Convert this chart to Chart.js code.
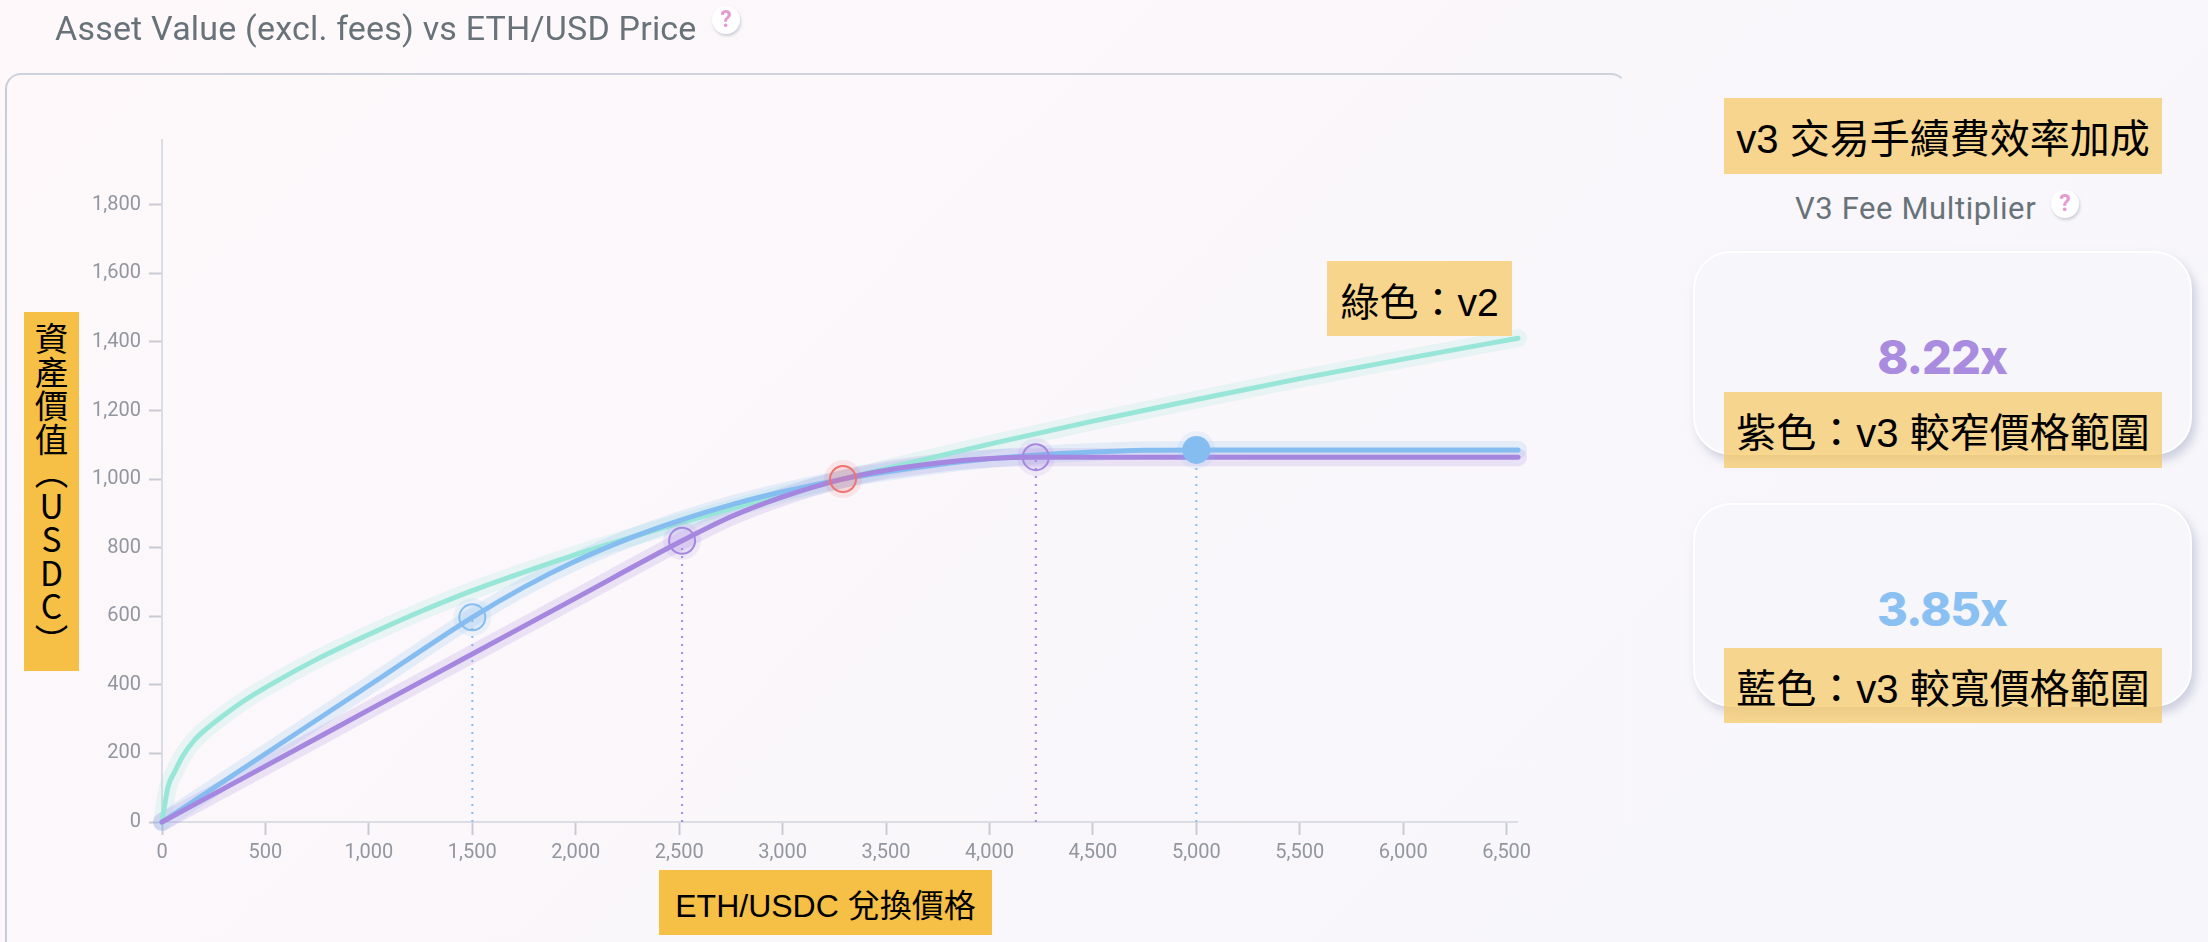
<!DOCTYPE html>
<html lang="zh-Hant">
<head>
<meta charset="utf-8">
<title>Asset Value vs ETH/USD Price</title>
<script src="https://cdn.jsdelivr.net/npm/chart.js@4/dist/chart.umd.min.js"></script>
<style>
  html, body { margin: 0; padding: 0; width: 2208px; height: 942px; overflow: hidden; }
  body { position: relative; background: linear-gradient(135deg, #fef8fa 0%, #f6f6fb 100%); font-family: Roboto, sans-serif; }
  .abs { position: absolute; }
  #panel { left: 5px; top: 73px; width: 1622px; height: 900px; border-radius: 16px; box-sizing: border-box;
    border: 2px solid #f8f8fc; border-left-color: #c6ccda; border-top-color: #cdd2dd; }
  #chart-wrap { left: 0; top: 0; width: 1640px; height: 942px; }
  .title { color: #687379; white-space: nowrap; }
  #main-title { left: 55px; top: 8px; font-size: 34px; line-height: 40px; letter-spacing: 0.2px; }
  #fee-title { left: 1795px; top: 189px; font-size: 31px; line-height: 40px; letter-spacing: 0.6px; }
  .help { width: 28px; height: 28px; border-radius: 50%; background: #fff; box-shadow: 1px 2px 3px rgba(150,155,175,.45);
    color: #e59ad0; font: bold 23px/28px Roboto, sans-serif; text-align: center; }
  .tile { left: 1693px; width: 499px; height: 204px; box-sizing: border-box; border-radius: 38px; background: #f7f6fb;
    border: 2px solid #fff; box-shadow: 4px 6px 10px rgba(170,175,200,.55); }
  .mult { left: 1693px; width: 498px; text-align: center; font: 800 47px/60px Inter, sans-serif; letter-spacing: -1px; }
  .note { display: flex; align-items: center; justify-content: center; box-sizing: border-box; color: #000; white-space: nowrap;
    font-family: "Liberation Sans", "Noto Sans CJK TC", sans-serif; font-size: 40px; }
  .pale { background: rgba(245, 202, 105, .75); }
  .strong { background: #f6bf45; }
  #y-note { left: 24px; top: 312px; width: 55px; height: 359px; padding-top: 10px; justify-content: flex-start; writing-mode: vertical-rl;
    text-orientation: upright; font-family: "Noto Sans CJK TC", sans-serif; font-size: 33.5px; }
</style>
</head>
<body>
<div class="abs" id="panel"></div>
<div class="abs" id="chart-wrap"><canvas id="asset-chart" width="1640" height="942"></canvas></div>

<div class="abs title" id="main-title">Asset Value (excl. fees) vs ETH/USD Price</div>
<div class="abs help" style="left:712px;top:6px">?</div>

<div class="abs note strong" id="y-note">資產價值（USDC）</div>
<div class="abs note strong" style="left:659px;top:870px;width:333px;height:65px;font-size:32px">ETH/USDC 兌換價格</div>
<div class="abs note" style="left:1327px;top:261px;width:185px;height:75px;background:#f8d58c;font-size:39px">綠色：v2</div>

<div class="abs note pale" style="left:1724px;top:98px;width:438px;height:76px">v3 交易手續費效率加成</div>
<div class="abs title" id="fee-title">V3 Fee Multiplier</div>
<div class="abs help" style="left:2051px;top:190px">?</div>

<div class="abs tile" style="top:251px"></div>
<div class="abs mult" style="top:327px;color:#a98bdf">8.22x</div>
<div class="abs note pale" style="left:1724px;top:392px;width:438px;height:76px">紫色：v3 較窄價格範圍</div>

<div class="abs tile" style="top:503px"></div>
<div class="abs mult" style="top:579px;color:#8bc1f2">3.85x</div>
<div class="abs note pale" style="left:1724px;top:648px;width:438px;height:75px">藍色：v3 較寬價格範圍</div>

<script>
const xTicks = [0, 500, 1000, 1500, 2000, 2500, 3000, 3500, 4000, 4500, 5000, 5500, 6000, 6500];
const yTicks = [0, 200, 400, 600, 800, 1000, 1200, 1400, 1600, 1800];

const v2Prices = [0, 29, 60, 100, 150, 200, 300, 400, 500, 750, 1000, 1250, 1500, 1750, 2000, 2250, 2500, 2750, 3000, 3290, 3500, 4000, 4500, 5000, 5500, 6000, 6555];
const v2Values = [0, 102, 145, 192, 234, 264, 312, 355, 392, 475, 547, 614, 675, 729, 780, 827, 872, 914, 955, 1000, 1031, 1102, 1169, 1232, 1293, 1350, 1411];

const widePrices = [0, 500, 1000, 1500, 1750, 2000, 2250, 2500, 2750, 3000, 3290, 3500, 3750, 4000, 4250, 4500, 4750, 5000, 6555];
const wideValues = [0, 199, 398, 597, 685, 761, 825, 879, 925, 963, 1000, 1021, 1042, 1059, 1071, 1079, 1084, 1085, 1085];

const narrowPrices = [0, 500, 1000, 1500, 2000, 2514, 2750, 3000, 3290, 3500, 3750, 4000, 4224, 6555];
const narrowValues = [0, 163, 327, 490, 653, 820, 890, 948, 1000, 1026, 1047, 1060, 1064, 1064];

const widePegPrices = [1500, 5000];
const widePegValues = [597, 1085];
const narrowPegPrices = [2514, 4224];
const narrowPegValues = [820, 1064];
const currentPrice = [3292];
const currentValue = [1000];

const GREEN = '#98e6d8';
const BLUE = '#86bdf0';
const PURPLE = '#a587e0';
const RED = '#ef7470';

function toPoints(xs, ys) {
  return xs.map((x, i) => ({ x, y: ys[i] }));
}

function curve(xs, ys, color, width, alpha) {
  return {
    data: toPoints(xs, ys),
    borderColor: color + alpha,
    borderWidth: width,
    borderCapStyle: 'round',
    borderJoinStyle: 'round',
    pointRadius: 0,
    showLine: true,
    cubicInterpolationMode: 'monotone',
    clip: false
  };
}

function dropLine(x, y, color) {
  return {
    data: [{ x, y: 0 }, { x, y }],
    borderColor: color,
    borderWidth: 2,
    borderDash: [2, 6],
    pointRadius: 0,
    showLine: true,
    clip: false
  };
}

function marker(xs, ys, color, radius, fill, border) {
  return {
    data: toPoints(xs, ys),
    pointRadius: radius,
    pointBackgroundColor: fill,
    pointBorderColor: color,
    pointBorderWidth: border,
    showLine: false,
    clip: false
  };
}

function buildAssetChart() {
  const ctx = document.getElementById('asset-chart').getContext('2d');
  // first dataset ends up on top
  const datasets = [
    marker([widePegPrices[1]], [widePegValues[1]], BLUE, 14, BLUE, 0),
    marker([widePegPrices[0]], [widePegValues[0]], BLUE, 13, BLUE + '22', 2),
    marker(narrowPegPrices, narrowPegValues, PURPLE, 13, PURPLE + '22', 2),
    marker(currentPrice, currentValue, RED, 13, RED + '22', 2),
    marker(widePegPrices, widePegValues, BLUE + '22', 19, BLUE + '22', 0),
    marker(narrowPegPrices, narrowPegValues, PURPLE + '22', 19, PURPLE + '22', 0),
    marker(currentPrice, currentValue, RED + '22', 19, RED + '22', 0),
    curve(narrowPrices, narrowValues, PURPLE, 5, 'ff'),
    curve(widePrices, wideValues, BLUE, 5, 'ff'),
    curve(v2Prices, v2Values, GREEN, 5, 'ff'),
    curve(narrowPrices, narrowValues, PURPLE, 18, '30'),
    curve(widePrices, wideValues, BLUE, 18, '30'),
    curve(v2Prices, v2Values, GREEN, 18, '30'),
    dropLine(widePegPrices[0], widePegValues[0], BLUE),
    dropLine(widePegPrices[1], widePegValues[1], BLUE),
    dropLine(narrowPegPrices[0], narrowPegValues[0], PURPLE),
    dropLine(narrowPegPrices[1], narrowPegValues[1], PURPLE)
  ];
  const tickFont = { family: 'Roboto', size: 20 };
  const formatTick = (v) => Number(v).toLocaleString('en-US');
  return new Chart(ctx, {
    type: 'scatter',
    data: { datasets },
    options: {
      responsive: false,
      animation: false,
      layout: { padding: { left: 0, right: 123, top: 140, bottom: 60 } },
      plugins: { legend: { display: false }, tooltip: { enabled: false } },
      scales: {
        x: {
          type: 'linear',
          min: 0,
          max: 6550,
          afterFit: (s) => { s.height = 60; },
          afterBuildTicks: (s) => { s.ticks = xTicks.map(value => ({ value })); },
          grid: { drawOnChartArea: false, tickLength: 13, tickColor: '#c9cad3', tickWidth: 2 },
          border: { color: '#dcdce4', width: 2 },
          ticks: {
            autoSkip: false,
            maxRotation: 0,
            padding: 6,
            color: '#92969f',
            font: tickFont,
            callback: formatTick
          }
        },
        y: {
          type: 'linear',
          min: 0,
          max: 1989,
          afterFit: (s) => { s.width = 162; },
          afterBuildTicks: (s) => { s.ticks = yTicks.map(value => ({ value })); },
          grid: { drawOnChartArea: false, tickLength: 13, tickColor: '#c9cad3', tickWidth: 2 },
          border: { color: '#dcdce4', width: 2 },
          ticks: {
            autoSkip: false,
            padding: 8,
            color: '#92969f',
            font: tickFont,
            callback: formatTick
          }
        }
      }
    }
  });
}

buildAssetChart();
</script>
</body>
</html>
